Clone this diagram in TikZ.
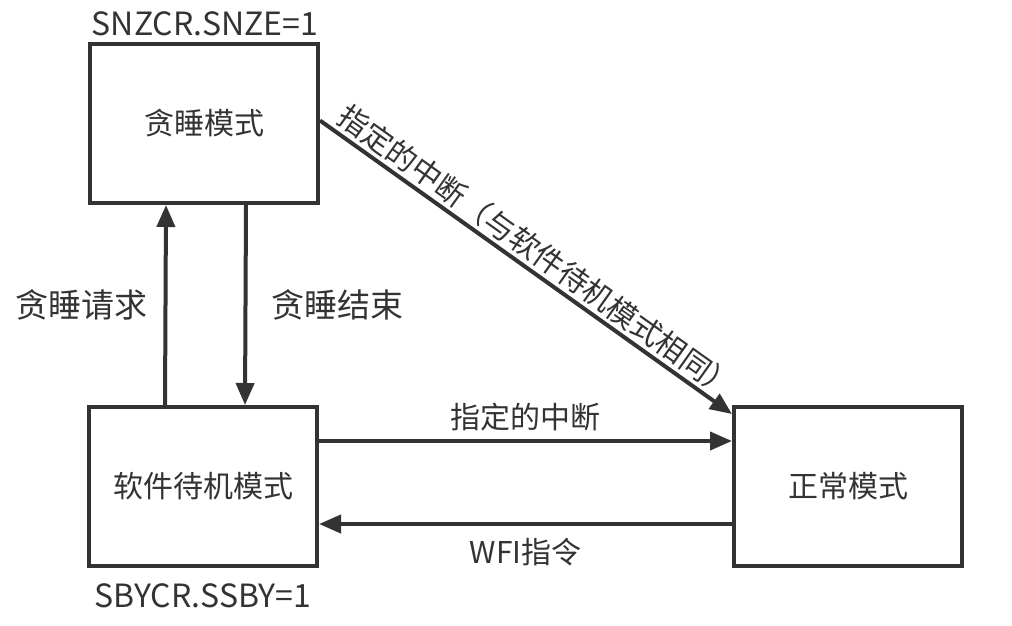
\documentclass[tikz,border=0pt]{standalone}
\usepackage{fontspec}
\setmainfont{Noto Sans CJK SC}
\usetikzlibrary{arrows.meta}
\definecolor{ink}{HTML}{333333}
\begin{document}
\begin{tikzpicture}[x=1pt,y=-1pt,
  box/.style={draw=ink,line width=4pt,minimum width=228pt,minimum height=159pt,inner sep=0pt,font=\fontsize{30}{33}\selectfont,text=ink},
  lbl/.style={font=\fontsize{30}{33}\selectfont,text=ink,inner sep=0pt},
  arr/.style={draw=ink,line width=4pt,-{Triangle[length=22pt,width=18pt]}}]
\useasboundingbox (0,0) rectangle (1012,625);
\node[box] (snz) at (204,123.5) {贪睡模式};
\node[box] (sb) at (203,486.5) {软件待机模式};
\node[box] (nm) at (848,486.5) {正常模式};
\node[lbl,font=\fontsize{32}{35}\selectfont] (t1) at (205,24) {SNZCR.SNZE=1};
\node[lbl,font=\fontsize{32}{35}\selectfont] (t2) at (203,596) {SBYCR.SSBY=1};
\draw[arr] ([xshift=78pt]sb.north west) -- ([xshift=78pt]snz.south west) node[pos=0.5,left=16pt,lbl,font=\fontsize{33}{36}\selectfont] {贪睡请求};
\draw[arr] ([xshift=158pt]snz.south west) -- ([xshift=158pt]sb.north west) node[pos=0.5,right=24pt,lbl,font=\fontsize{33}{36}\selectfont] {贪睡结束};
\draw[arr] ([yshift=3pt]snz.east) -- ([yshift=-9pt]nm.north west) node[pos=0.5,sloped,above=3pt,lbl,font=\fontsize{30}{33}\selectfont] {指定的中断（与软件待机模式相同）};
\draw[arr] ([yshift=-36pt]sb.north east) -- ([yshift=-36pt]nm.north west) node[pos=0.5,above=8pt,lbl] {指定的中断};
\draw[arr] ([yshift=-119pt]nm.north east -| nm.west) -- ([yshift=-119pt]sb.north east) node[pos=0.5,below=12pt,lbl] {WFI指令};
\end{tikzpicture}
\end{document}
